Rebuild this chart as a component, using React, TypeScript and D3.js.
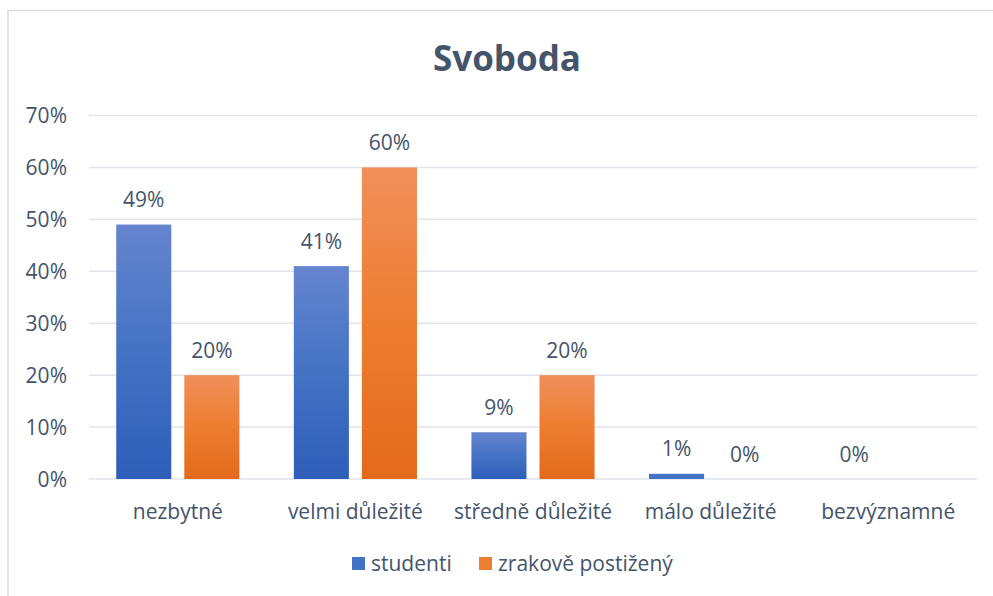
import React from "react";
import * as d3 from "d3";

const categories = ["nezbytné", "velmi důležité", "středně důležité", "málo důležité", "bezvýznamné"];
const seriesNames = ["studenti", "zrakově postižený"];
const studenti: (number | null)[] = [49, 41, 9, 1, 0];
const zrakove: (number | null)[] = [20, 60, 20, 0, null];
const yTicks = [0, 10, 20, 30, 40, 50, 60, 70];
const title = "Svoboda";

const W = 993;
const H = 596;
const FONT = "'Open Sans', Lato, sans-serif";
const TEXT = "#44546A";
const FS = 21;

export default function App() {
  const x0 = d3.scaleBand<string>().domain(categories).range([89, 977]).padding(0);
  const x1 = d3
    .scaleBand<number>()
    .domain([0, 1])
    .range([0, x0.bandwidth()])
    .paddingInner(0.191)
    .paddingOuter(0.4);
  const y = d3.scaleLinear().domain([0, 70]).range([479, 115.5]);
  const series = [studenti, zrakove];
  const grads = ["gBlue", "gOrange"];
  const solid = ["#4472C4", "#ED7D31"];

  return (
    <div style={{ position: "absolute", left: 0, top: 0 }}>
      <svg width={W} height={H} style={{ display: "block", background: "#fff" }}>
        <defs>
          <linearGradient id="gBlue" x1="0" y1="0" x2="0" y2="1">
            <stop offset="0" stopColor="#6585CE" />
            <stop offset="0.5" stopColor="#4472C4" />
            <stop offset="1" stopColor="#2E5EB9" />
          </linearGradient>
          <linearGradient id="gOrange" x1="0" y1="0" x2="0" y2="1">
            <stop offset="0" stopColor="#F08F5B" />
            <stop offset="0.5" stopColor="#ED7D31" />
            <stop offset="1" stopColor="#E46A1A" />
          </linearGradient>
        </defs>
        <rect x={8} y={10.5} width={W + 10} height={H + 10} fill="#fff" stroke="#D9DDE3" strokeWidth={1.5} />
        <text x={507} y={71} textAnchor="middle" fontFamily={FONT} fontWeight={700} fontSize={35} fill={TEXT}>
          {title}
        </text>
        {yTicks.map((t) => (
          <g key={t}>
            <line x1={89} x2={977} y1={y(t)} y2={y(t)} stroke="#E1E4EA" strokeWidth={1.5} />
            <text x={67} y={y(t) + 7.5} textAnchor="end" fontFamily={FONT} fontSize={FS} fill={TEXT}>
              {t}%
            </text>
          </g>
        ))}
        {categories.map((c, i) => (
          <g key={c}>
            {series.map((s, j) => {
              const v = s[i];
              if (v == null) return null;
              const bx = (x0(c) as number) + (x1(j) as number);
              const bw = x1.bandwidth();
              const top = y(v);
              const h = y(0) - top;
              return (
                <g key={j}>
                  {h > 0 && (
                    <rect x={bx} y={top} width={bw} height={h} fill={h > 20 ? `url(#${grads[j]})` : solid[j]} />
                  )}
                  <text x={bx + bw / 2} y={top - 17.5} textAnchor="middle" fontFamily={FONT} fontSize={FS} fill={TEXT}>
                    {v}%
                  </text>
                </g>
              );
            })}
            <text
              x={(x0(c) as number) + x0.bandwidth() / 2}
              y={518.5}
              textAnchor="middle"
              fontFamily={FONT}
              fontSize={FS}
              fill={TEXT}
            >
              {c}
            </text>
          </g>
        ))}
        {seriesNames.map((n, j) => {
          const lx = [352, 479][j];
          return (
            <g key={n}>
              <rect x={lx} y={557} width={13} height={13} fill={solid[j]} />
              <text x={lx + 19} y={571} fontFamily={FONT} fontSize={FS} fill={TEXT}>
                {n}
              </text>
            </g>
          );
        })}
      </svg>
    </div>
  );
}
